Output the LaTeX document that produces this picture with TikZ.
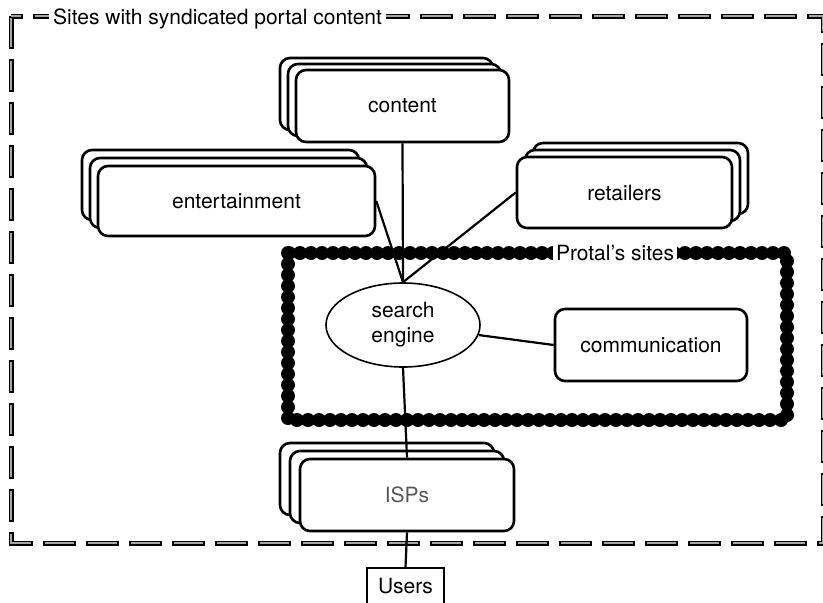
\documentclass[tikz,border=0pt]{standalone}
\usepackage{fontspec}
\setmainfont{TeX Gyre Heros}
\usetikzlibrary{shapes.geometric,shadows}

\begin{document}
\begin{tikzpicture}
[x=1pt,y=-1pt,%
  every node/.style={font=\fontsize{21}{25}\selectfont},%
  site/.style={rectangle,draw,line width=2.6pt,rounded corners=10pt,fill=white,inner sep=0pt},%
  stack/.style={site,double copy shadow={shadow xshift=#1,fill=white,draw=black,line width=2.6pt}},%
  link/.style={-,line width=2.2pt},%
  syndline/.style={line width=5pt,dash pattern=on 33pt off 10pt}]
\useasboundingbox (0,0) rectangle (823,603);
% outer region
\draw[syndline] (11,16) rectangle (823,543);
\draw[syndline,line width=1.2pt,gray!70,dash pattern=on 29pt off 14pt,dash phase=41pt]
  (11,16) rectangle (823,543);
\node[anchor=west,fill=white,inner sep=4pt] (syndlabel) at (49,19) {Sites with syndicated portal content};
% portal's own sites
\draw[line width=14pt,line cap=round,dash pattern=on 0pt off 11pt]
  (288,253) rectangle (787,420);
\node[fill=white,inner sep=3pt] (portallabel) at (615,253) {Protal's sites};
% sites
\node[stack={-8pt,shadow yshift=6pt},minimum width=213pt,minimum height=72pt] (content) at (402.5,106) {content};
\node[stack={-8pt,shadow yshift=8pt},minimum width=277pt,minimum height=70pt] (entertainment) at (236.5,201) {entertainment};
\node[stack={8pt,shadow yshift=7pt},minimum width=215pt,minimum height=71pt] (retailers) at (624.5,192.5) {retailers};
\node[ellipse,draw,line width=1.6pt,fill=white,inner sep=0pt,minimum width=154pt,minimum height=84pt,align=center] (engine) at (403,325) {search\\engine};
\node[site,minimum width=192pt,minimum height=72pt] (communication) at (651,345) {communication};
\node[stack={-10pt,shadow yshift=8pt},minimum width=214pt,minimum height=72pt,text=black!65] (isps) at (407,495) {ISPs};
\node[rectangle,draw,line width=1.2pt,fill=white,minimum width=77pt,minimum height=36pt,inner sep=0pt] (users) at (405.5,586) {Users};
% links
\draw[link] (content.south) -- (engine.north);
\draw[link] (entertainment.east) -- (engine.north);
\draw[link] (retailers.west) -- (engine.north);
\draw[link] (engine) -- (communication.west);
\draw[link] (engine.south) -- (isps.north);
\draw[link] (isps.south) -- (users.north);
\end{tikzpicture}
\end{document}
